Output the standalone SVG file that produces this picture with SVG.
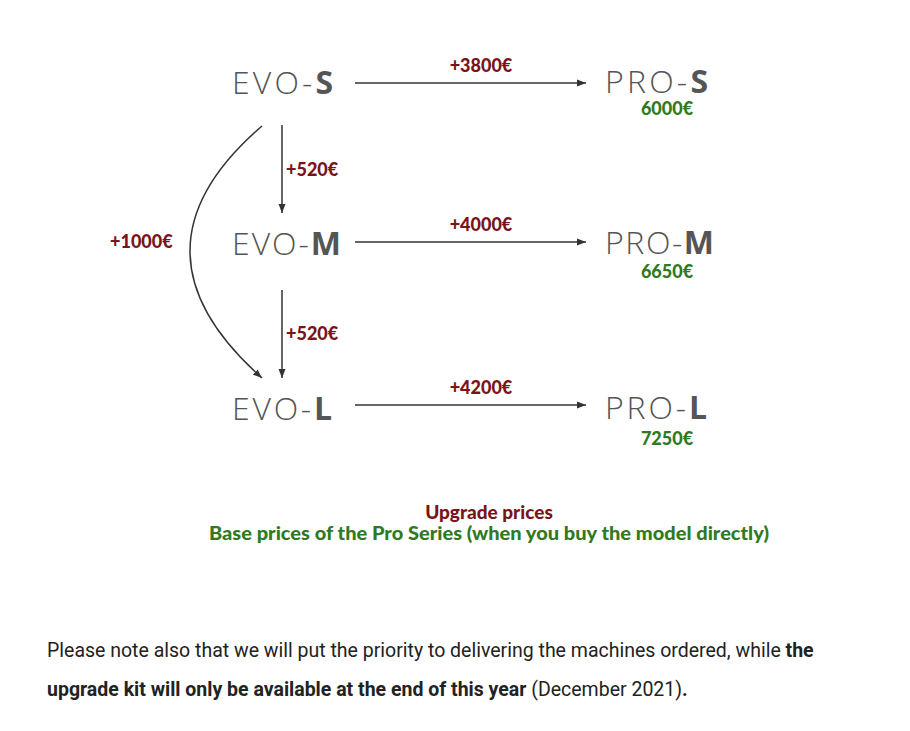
<svg xmlns="http://www.w3.org/2000/svg" width="910" height="731" viewBox="0 0 910 731">
<style>
.n{font-family:"Open Sans","Liberation Sans",sans-serif;font-size:32px;font-weight:300;fill:#555}
.n tspan{font-weight:700}
.up{font-family:"Lato","Liberation Sans",sans-serif;font-weight:900;font-size:18px;fill:#7a1418}
.pr{font-family:"Lato","Liberation Sans",sans-serif;font-weight:900;font-size:18px;fill:#2f7a1f;text-anchor:middle}
.lg{font-size:19px}
.c{stroke:#333;stroke-width:1.5;fill:none;marker-end:url(#a)}
.p{font-family:Roboto,"Liberation Sans",sans-serif;font-size:19.5px;fill:#222}
</style>
<defs><marker id="a" markerWidth="10" markerHeight="8" refX="9" refY="4" orient="auto" markerUnits="userSpaceOnUse"><path d="M0,0.5 L9,4 L0,7.5 Z" fill="#333"/></marker></defs>
<rect width="910" height="731" fill="#fff"/>
<g id="connectors">
<path class="c" d="M355,83 H586"/>
<path class="c" d="M355,242 H586"/>
<path class="c" d="M355,405 H586"/>
<path class="c" d="M282,125 V213"/>
<path class="c" d="M282,290 V378"/>
<path class="c" d="M262,126 Q118,250 262,378"/>
<text class="up" x="481" y="72" text-anchor="middle">+3800€</text>
<text class="up" x="481" y="231" text-anchor="middle">+4000€</text>
<text class="up" x="481" y="394" text-anchor="middle">+4200€</text>
<text class="up" x="286" y="176">+520€</text>
<text class="up" x="286" y="340">+520€</text>
<text class="up" x="110" y="248">+1000€</text>
</g>
<g id="evo-s"><text class="n" x="232" y="94" textLength="101">EVO-<tspan>S</tspan></text></g>
<g id="evo-m"><text class="n" x="232" y="255" textLength="109">EVO-<tspan>M</tspan></text></g>
<g id="evo-l"><text class="n" x="232" y="420" textLength="100">EVO-<tspan>L</tspan></text></g>
<g id="pro-s"><text class="n" x="605" y="93" textLength="103">PRO-<tspan>S</tspan></text><text class="pr" x="667" y="115">6000€</text></g>
<g id="pro-m"><text class="n" x="605" y="254" textLength="109">PRO-<tspan>M</tspan></text><text class="pr" x="667" y="278">6650€</text></g>
<g id="pro-l"><text class="n" x="605" y="419" textLength="102">PRO-<tspan>L</tspan></text><text class="pr" x="667" y="445">7250€</text></g>
<g id="legend">
<text class="up lg" x="489" y="519" text-anchor="middle">Upgrade prices</text>
<text class="pr lg" x="489" y="540" textLength="560" lengthAdjust="spacingAndGlyphs">Base prices of the Pro Series (when you buy the model directly)</text>
</g>
<text class="p" x="47" y="657">Please note also that we will put the priority to delivering the machines ordered, while <tspan font-weight="700">the</tspan></text>
<text class="p" x="47" y="696"><tspan font-weight="700">upgrade kit will only be available at the end of this year</tspan> (December 2021)<tspan font-weight="700">.</tspan></text>
</svg>
